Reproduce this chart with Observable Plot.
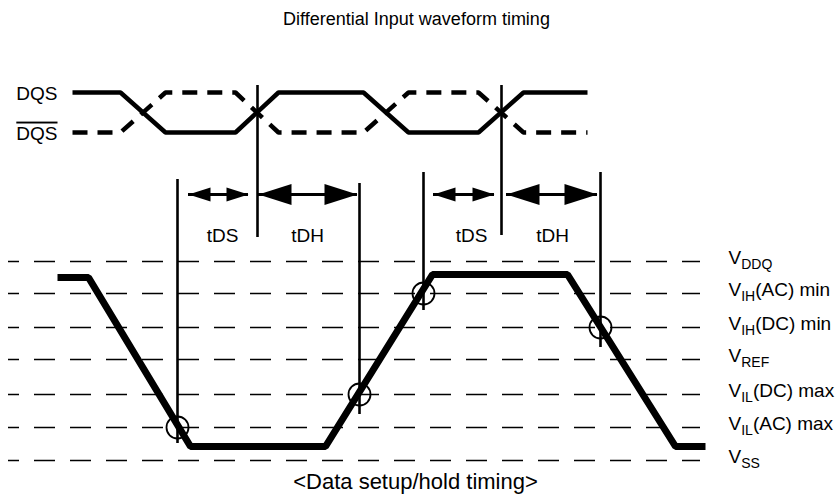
<!DOCTYPE html>
<html><head><meta charset="utf-8">
<script src="https://cdn.jsdelivr.net/npm/d3@7"></script>
<script src="https://cdn.jsdelivr.net/npm/@observablehq/plot@0.6"></script>
<style>body{margin:0;background:#fff}</style>
</head><body><div id="chart"></div>
<script>
const title = "Differential Input waveform timing";
const caption = "<Data setup/hold timing>";

// Strobe traces (time units, level units)
const dqsT  = [72, 120, 165, 235, 278, 363, 408, 478, 523, 587];
const dqsY  = [92, 92, 132, 132, 92, 92, 132, 132, 92, 92];
const dqsbY = [132, 132, 92, 92, 132, 132, 92, 92, 132, 132];
const strobeLabels = ["DQS", "DQS"];
const strobeLabelY = [92, 132];

// Reference levels
const levelMain   = ["V", "V", "V", "V", "V", "V", "V"];
const levelSub    = ["DDQ", "IH", "IH", "REF", "IL", "IL", "SS"];
const levelSuffix = ["", "(AC) min", "(DC) min", "", "(DC) max", "(AC) max", ""];
const levelY      = [261, 293, 327, 359, 394, 427, 460];
const levelStart = 8, levelEnd = 700;

// Data input waveform
const dataT = [57, 88, 190, 325, 432, 567, 675, 705];
const dataY = [277, 277, 446, 446, 274, 274, 446, 446];

// Strobe crossing reference lines
const edgeT = [257, 501];
const edgeTop = [85, 85];
const edgeBottom = [237, 235];

// Data level crossing lines
const crossT = [177, 359, 423, 600];
const crossLevel = [5, 4, 1, 2];
const crossTop = [179, 183, 172, 172];
const crossBottom = [443, 414, 310, 347];

// Timing arrows
const arrowFrom = [188, 258, 433, 506];
const arrowTo   = [248, 357, 494, 597];
const arrowName = ["tDS", "tDH", "tDS", "tDH"];
const arrowY = 194;
const arrowLabelX = [222, 307, 471, 552];
const arrowLabelY = 241;

function head(L, H) {
  return {draw(ctx) { ctx.moveTo(0, 0); ctx.lineTo(-L, -H / 2); ctx.lineTo(-L, H / 2); ctx.closePath(); }};
}
const smallHead = head(22, 14), bigHead = head(33, 21);
const isS = (d, i) => arrowName[i] === "tDS";
const isH = (d, i) => arrowName[i] === "tDH";

const FS = 19;
const svg = Plot.plot({
  width: 840, height: 503, margin: 0,
  x: {domain: [0, 840], range: [0, 840], axis: null},
  y: {domain: [0, 503], range: [0, 503], axis: null},
  style: {fontFamily: "'Liberation Sans', Arial, sans-serif", background: "white", color: "black"},
  marks: [
    Plot.text([title], {frameAnchor: "top", text: d => d, dy: 12, dx: -4, fontSize: 18}),
    Plot.text([caption], {frameAnchor: "bottom", text: d => d, dy: -15, dx: -5, fontSize: 22}),
    // reference level dashed lines
    Plot.ruleY(levelY, {y: d => d, x1: () => levelStart, x2: () => levelEnd, strokeWidth: 1.6, strokeDasharray: "21,15", strokeDashoffset: 10}),
    Plot.text(levelMain, {x: () => levelEnd, y: levelY, text: d => d, dx: 28, dy: 2, textAnchor: "start", lineAnchor: "bottom", fontSize: FS}),
    // strobes
    Plot.line(dqsT, {x: dqsT, y: dqsbY, strokeWidth: 4.5, strokeDasharray: "15,10", strokeLinecap: "butt", strokeLinejoin: "miter"}),
    Plot.line(dqsT, {x: dqsT, y: dqsY, strokeWidth: 4.5, strokeLinecap: "butt", strokeLinejoin: "miter"}),
    Plot.text(strobeLabels, {x: () => dqsT[0], y: strobeLabelY, text: d => d, dx: -15, dy: 1, textAnchor: "end", lineAnchor: "middle", fontSize: FS}),
    // verticals
    Plot.ruleX(edgeT, {x: edgeT, y1: edgeTop, y2: edgeBottom, strokeWidth: 2.6}),
    Plot.ruleX(crossT, {x: crossT, y1: crossTop, y2: crossBottom, strokeWidth: 2.6}),
    // arrows
    Plot.ruleY(arrowFrom, {x1: arrowFrom, x2: arrowTo, y: () => arrowY, strokeWidth: 3}),
    Plot.dot(arrowTo, {filter: isS, x: arrowTo, y: () => arrowY, symbol: smallHead, fill: "black", stroke: "none"}),
    Plot.dot(arrowFrom, {filter: isS, x: arrowFrom, y: () => arrowY, symbol: smallHead, rotate: 180, fill: "black", stroke: "none"}),
    Plot.dot(arrowTo, {filter: isH, x: arrowTo, y: () => arrowY, symbol: bigHead, fill: "black", stroke: "none"}),
    Plot.dot(arrowFrom, {filter: isH, x: arrowFrom, y: () => arrowY, symbol: bigHead, rotate: 180, fill: "black", stroke: "none"}),
    Plot.text(arrowName, {x: arrowLabelX, y: () => arrowLabelY, text: d => d, lineAnchor: "bottom", fontSize: FS}),
    // data waveform
    Plot.line(dataT, {x: dataT, y: dataY, strokeWidth: 7, strokeLinecap: "butt", strokeLinejoin: "miter"}),
    Plot.dot(crossT, {x: crossT, y: (d, i) => levelY[crossLevel[i]], r: 11, stroke: "black", fill: "none", strokeWidth: 1.8})
  ]
});

const s = d3.select(svg);
// Level labels: "V" + subscript + suffix
let li = 0;
s.selectAll("text").filter(function () { return this.textContent === "V"; }).each(function () {
  const i = li++;
  const t = d3.select(this);
  t.text(null);
  t.append("tspan").text(levelMain[i]);
  t.append("tspan").attr("dy", 5).attr("font-size", 14).text(levelSub[i]);
  if (levelSuffix[i]) t.append("tspan").attr("dy", -5).text(levelSuffix[i]);
});
// Complement strobe gets an overline
s.selectAll("text").filter(function () { return this.textContent === "DQS"; })
  .filter((_, i) => i === 1)
  .style("text-decoration", "overline");
document.getElementById("chart").append(svg);
</script>
</body></html>
